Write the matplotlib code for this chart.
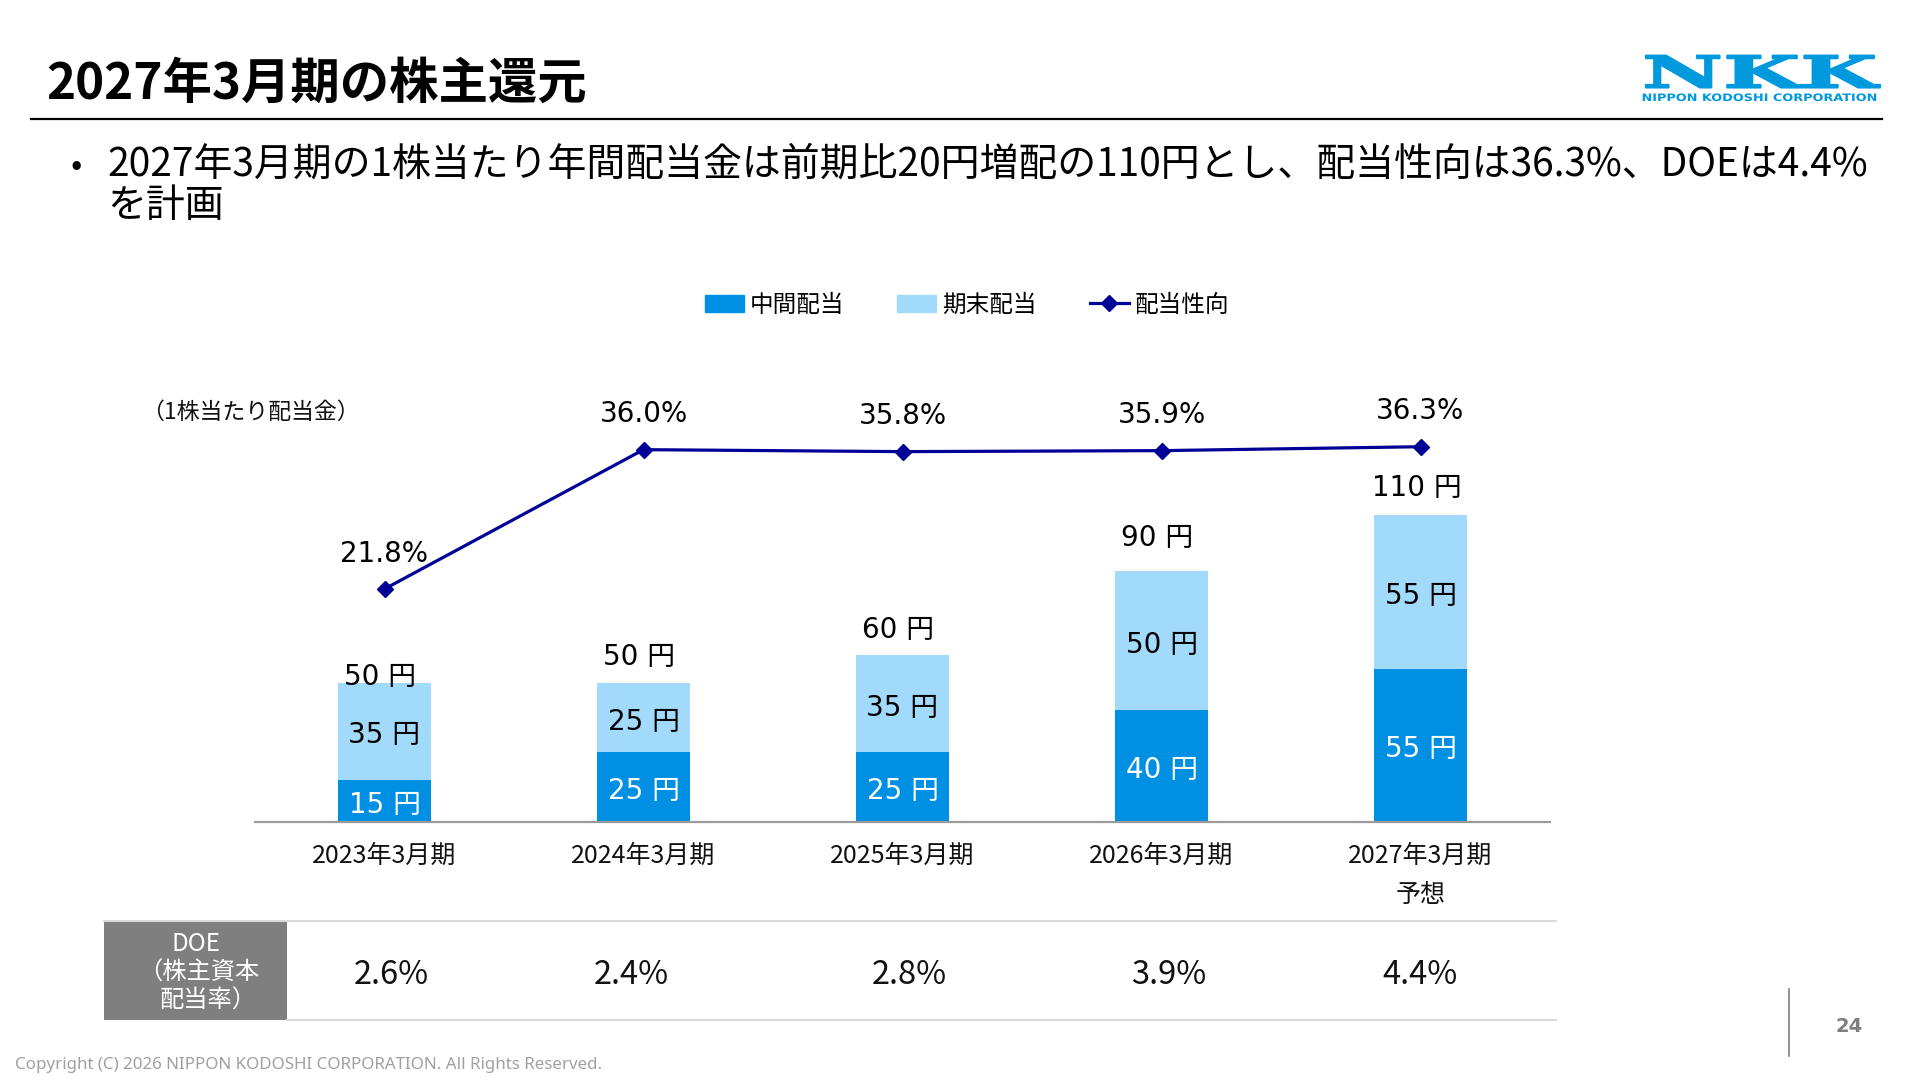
import numpy as np
import matplotlib
matplotlib.use("Agg")
import matplotlib.pyplot as plt
from matplotlib.patches import Rectangle, Patch
from matplotlib.lines import Line2D
from matplotlib.transforms import Affine2D, blended_transform_factory
from matplotlib.patheffects import AbstractPathEffect
from matplotlib.font_manager import FontProperties

# ---------------- data ----------------
periods = ["2023年3月期", "2024年3月期", "2025年3月期", "2026年3月期", "2027年3月期"]
forecast_note = "予想"
interim = [15, 25, 25, 40, 55]          # 中間配当 (円)
year_end = [35, 25, 35, 50, 55]         # 期末配当 (円)
totals = [50, 50, 60, 90, 110]          # 年間配当 (円)
payout = [21.8, 36.0, 35.8, 35.9, 36.3]  # 配当性向 (%)
doe = ["2.6%", "2.4%", "2.8%", "3.9%", "4.4%"]
legend_labels = ["中間配当", "期末配当", "配当性向"]

title = "2027年3月期の株主還元"
bullet_line1 = "2027年3月期の1株当たり年間配当金は前期比20円増配の110円とし、配当性向は36.3%、DOEは4.4%"
bullet_line2 = "を計画"
unit_label = "（1株当たり配当金）"
doe_header = ["DOE", "（株主資本", "配当率）"]
copyright_text = "Copyright (C) 2026 NIPPON KODOSHI CORPORATION. All Rights Reserved."
page_no = "24"

# ---------------- style ----------------
C_INT = "#0090E3"
C_END = "#A2DAFC"
C_LINE = "#000096"
C_LOGO = "#0099DD"
JP = "Noto Sans CJK JP"
NUM = ["DejaVu Sans", "Noto Sans CJK JP"]
W, H = 1920, 1080

plt.rcParams["font.family"] = [JP, "DejaVu Sans"]

fig = plt.figure(figsize=(W / 100, H / 100), dpi=100)
fig.patch.set_facecolor("white")


def fx(px):
    return px / W


def fy(py):
    return 1 - py / H


# ---------------- main chart ----------------
ax_top, ax_bot = 380, 822
ax = fig.add_axes([fx(255), fy(ax_bot), fx(1550) - fx(255), fy(ax_top) - fy(ax_bot)])
px_per_yen = 2.79
ax.set_ylim(0, (ax_bot - ax_top) / px_per_yen)
ax.set_xlim(-0.5, 4.5)
x = np.arange(len(periods))
bw = 0.358
ax.bar(x, interim, width=bw, color=C_INT, zorder=2)
ax.bar(x, year_end, bottom=interim, width=bw, color=C_END, zorder=2)

for s in ["left", "right", "top"]:
    ax.spines[s].set_visible(False)
ax.spines["bottom"].set_color("#9A9A9A")
ax.spines["bottom"].set_linewidth(1.6)
ax.set_yticks([])
ax.set_xticks(x)
ax.set_xticklabels(periods, fontsize=18, family=JP, color="#111111")
ax.tick_params(axis="x", length=0, pad=15)

bt = blended_transform_factory(ax.transData, fig.transFigure)
ax.text(x[-1], fy(895), forecast_note, transform=bt, ha="center", va="center",
        fontsize=18, family=JP, color="#111111")

LBL_DY = -3.0  # pt, compensates descender space in the text box
for i in x:
    ax.annotate(f"{interim[i]} 円", xy=(i, interim[i] / 2), xytext=(0, LBL_DY),
                textcoords="offset points", ha="center", va="center",
                color="white", fontsize=20, family=NUM, zorder=3)
    ax.annotate(f"{year_end[i]} 円", xy=(i, interim[i] + year_end[i] / 2),
                xytext=(0, LBL_DY), textcoords="offset points", ha="center",
                va="center", color="black", fontsize=20, family=NUM, zorder=3)

total_offsets_px = [10, 30, 29, 37, 31]
for i in x:
    ax.annotate(f"{totals[i]} 円", xy=(i, totals[i]),
                xytext=(-3, total_offsets_px[i] * 0.72 + LBL_DY), textcoords="offset points",
                ha="center", va="center", fontsize=20, family=NUM, color="black")

# payout ratio line on a secondary scale
ax2 = ax.twinx()
ax2.set_ylim(-1.95, 43.1)
ax2.set_axis_off()
ax2.plot(x, payout, color=C_LINE, lw=2.3, marker="D", ms=8, zorder=4)
for i in x:
    ax2.annotate(f"{payout[i]:.1f}%", xy=(i, payout[i]), xytext=(0, 38 * 0.72 - 2),
                 textcoords="offset points", ha="center", va="center",
                 fontsize=20, family=NUM, color="black")

fig.text(fx(141.5), fy(412), unit_label, ha="left", va="center", fontsize=16.5,
         family=JP, color="#111111")

# legend
handles = [Patch(color=C_INT), Patch(color=C_END),
           Line2D([], [], color=C_LINE, lw=2.3, marker="D", ms=8)]
fig.legend(handles, legend_labels, loc="center", bbox_to_anchor=(fx(967), fy(305)),
           ncol=3, frameon=False, prop=FontProperties(family=JP, size=17),
           handlelength=1.65, handletextpad=0.25, columnspacing=2.25, handleheight=0.7)

# ---------------- title & bullet ----------------
fig.text(fx(46), fy(84.5), title, ha="left", va="center", fontsize=35.6,
         weight="bold", family=JP, color="black")
fig.add_artist(Line2D([fx(31), fx(1882)], [fy(119), fy(119)], color="black",
                      lw=1.6, transform=fig.transFigure))
fig.text(fx(76), fy(165), "•", ha="center", va="center", fontsize=24,
         family=JP, color="black")
fig.text(fx(107), fy(165), bullet_line1, ha="left", va="center", fontsize=28,
         family=JP, color="black")
fig.text(fx(107), fy(206), bullet_line2, ha="left", va="center", fontsize=28,
         family=JP, color="black")

# ---------------- DOE table ----------------
fig.add_artist(Rectangle((fx(104), fy(1020)), fx(287) - fx(104), fy(921) - fy(1020),
                         transform=fig.transFigure, color="#7F7F7F", lw=0))
fig.add_artist(Line2D([fx(104), fx(1556)], [fy(921), fy(921)], color="#D9D9D9",
                      lw=1.5, transform=fig.transFigure))
fig.add_artist(Line2D([fx(287), fx(1556)], [fy(1020), fy(1020)], color="#D9D9D9",
                      lw=1.5, transform=fig.transFigure))
for txt, cx, cy in zip(doe_header, [196, 199, 208], [944, 973, 1001]):
    fig.text(fx(cx), fy(cy), txt, ha="center", va="center", fontsize=17.5,
             family=JP, color="white")
for txt, cx in zip(doe, [391, 631, 909, 1169, 1420]):
    fig.text(fx(cx), fy(974.5), txt, ha="center", va="center", fontsize=23.5,
             family=JP, color="#111111")

# ---------------- footer ----------------
fig.text(fx(15), fy(1065), copyright_text, ha="left", va="center", fontsize=12.2,
         family="Noto Sans", color="#A0A0A0")
fig.add_artist(Line2D([fx(1789), fx(1789)], [fy(989), fy(1056)], color="#7F7F7F",
                      lw=1.2, transform=fig.transFigure))
fig.text(fx(1849), fy(1027), page_no, ha="center", va="center", fontsize=14,
         weight="bold", family="DejaVu Sans", color="#7F7F7F")


# ---------------- logo (real text, stretched horizontally) ----------------
class HStretch(AbstractPathEffect):
    def __init__(self, sx, cx, lw=0.0):
        super().__init__()
        self.sx, self.cx, self.lw = sx, cx, lw

    def draw_path(self, renderer, gc, tpath, affine, rgbFace=None):
        tr = affine + Affine2D().translate(-self.cx, 0).scale(self.sx, 1).translate(self.cx, 0)
        gc0 = renderer.new_gc()
        gc0.copy_properties(gc)
        if self.lw and rgbFace is not None:
            gc0.set_linewidth(self.lw)
            gc0.set_foreground(rgbFace)
        renderer.draw_path(gc0, tpath, tr, rgbFace)
        gc0.restore()


logo_cx = (1642 + 1877) / 2
t_logo = fig.text(fx(logo_cx), fy(75), "NKK", ha="center", va="center", fontsize=31.5,
                  weight="bold", family="DejaVu Serif", color=C_LOGO)
t_sub = fig.text(fx(logo_cx), fy(98), "NIPPON KODOSHI CORPORATION", ha="center",
                 va="center", fontsize=7.4, weight="bold", family="DejaVu Sans",
                 color=C_LOGO)
fig.canvas.draw()
r = fig.canvas.get_renderer()
bb1 = t_logo.get_window_extent(r)
bb2 = t_sub.get_window_extent(r)
t_logo.set_path_effects([HStretch(235 / bb1.width, logo_cx, lw=1.5)])
t_sub.set_path_effects([HStretch(236 / bb2.width, logo_cx)])

fig.savefig("out.png", dpi=100, facecolor="white")
